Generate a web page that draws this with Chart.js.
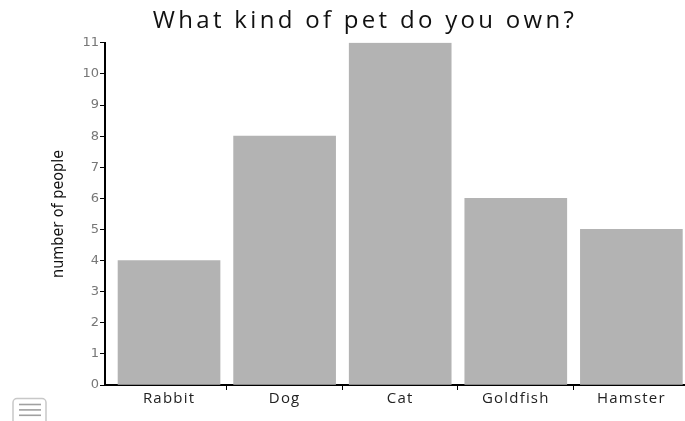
<!DOCTYPE html>
<html>
<head>
<meta charset="utf-8">
<script src="https://cdn.jsdelivr.net/npm/chart.js@4.4.1/dist/chart.umd.min.js"></script>
<style>
  html, body { margin: 0; padding: 0; background: #fff; }
  #wrap { width: 685px; height: 421px; }
</style>
</head>
<body>
<div id="wrap"><canvas id="petChart"></canvas></div>
<script>
// data
const pets = ['Rabbit', 'Dog', 'Cat', 'Goldfish', 'Hamster'];
const people = [4, 8, 11, 6, 5];
const yMax = 11;

// the bars sit a little right of the category slots in the original,
// so the x axis is linear with bars at 0..4 and a shifted window
const xMin = -0.554;
const xMax = 4.464;

// wide letter spacing on the title and the x labels
function spaced(obj, fn, spacing) {
  if (!obj || obj['_sp_' + fn]) return;
  const orig = obj[fn];
  obj[fn] = function (...args) {
    const ctx = this.ctx;
    ctx.save();
    ctx.letterSpacing = spacing;
    orig.apply(this, args);
    ctx.restore();
  };
  obj['_sp_' + fn] = true;
}

const letterSpacingPlugin = {
  id: 'letterSpacingPlugin',
  afterLayout(chart) {
    spaced(chart.titleBlock, 'draw', '3.3px');
    spaced(chart.scales.x, 'drawLabels', '1.2px');
  }
};

// little menu icon in the bottom left corner
const menuIcon = {
  id: 'menuIcon',
  afterDraw(chart) {
    const ctx = chart.ctx;
    ctx.save();
    ctx.strokeStyle = '#c8c8c8';
    ctx.lineWidth = 1.5;
    ctx.beginPath();
    ctx.roundRect(13, 398.5, 33, 28, 4);
    ctx.stroke();
    ctx.strokeStyle = '#a0a0a0';
    ctx.lineWidth = 1.6;
    for (let i = 0; i < 3; i++) {
      ctx.beginPath();
      ctx.moveTo(19, 404.5 + i * 5.4);
      ctx.lineTo(41, 404.5 + i * 5.4);
      ctx.stroke();
    }
    ctx.restore();
  }
};

const data = {
  datasets: [{
    label: 'number of people',
    data: people.map((v, i) => ({ x: i, y: v })),
    backgroundColor: '#b3b3b3',
    borderWidth: 0,
    barThickness: 102
  }]
};

const config = {
  type: 'bar',
  data,
  options: {
    responsive: true,
    maintainAspectRatio: false,
    animation: false,
    layout: { padding: { left: 45, right: 0, top: 7, bottom: 0 } },
    plugins: {
      legend: { display: false },
      tooltip: { enabled: false },
      title: {
        display: true,
        text: 'What kind of pet do you own?',
        color: '#111',
        font: { family: "'Open Sans', 'Noto Sans', sans-serif", size: 24, weight: 'normal' },
        padding: { top: 0, bottom: 7 }
      }
    },
    scales: {
      x: {
        type: 'linear',
        offset: false,
        min: xMin,
        max: xMax,
        afterBuildTicks(axis) {
          // labels under the bars, tick marks between them
          const t = [];
          pets.forEach((p, i) => {
            t.push({ value: i });
            if (i < pets.length - 1) t.push({ value: i + 0.5 });
          });
          axis.ticks = t;
        },
        grid: {
          offset: false,
          drawOnChartArea: false,
          tickLength: 5,
          tickWidth: 1,
          tickColor: ctx => (ctx.tick && !Number.isInteger(ctx.tick.value)) ? '#000' : 'rgba(0,0,0,0)'
        },
        border: { color: '#000', width: 2 },
        ticks: {
          autoSkip: false,
          maxRotation: 0,
          color: '#222',
          padding: 0,
          font: { family: "'Open Sans', 'Noto Sans', sans-serif", size: 15 },
          callback: v => Number.isInteger(v) ? pets[v] : ''
        },
        afterFit(scale) { scale.height = 36; }
      },
      y: {
        min: 0,
        max: yMax,
        ticks: {
          stepSize: 1,
          color: '#777',
          padding: 1,
          font: { family: "'DejaVu Sans', sans-serif", size: 13 }
        },
        grid: {
          drawOnChartArea: false,
          color: '#000',
          tickLength: 5,
          tickWidth: 1
        },
        border: { color: '#000', width: 2 },
        title: {
          display: true,
          text: 'number of people',
          color: '#111',
          padding: { top: 4, bottom: 0 },
          font: { family: "'Liberation Sans Narrow', 'DejaVu Sans Condensed', sans-serif", size: 16 }
        },
        afterFit(scale) { scale.width = 60; }
      }
    }
  },
  plugins: [letterSpacingPlugin, menuIcon]
};

new Chart(document.getElementById('petChart'), config);
</script>
</body>
</html>
